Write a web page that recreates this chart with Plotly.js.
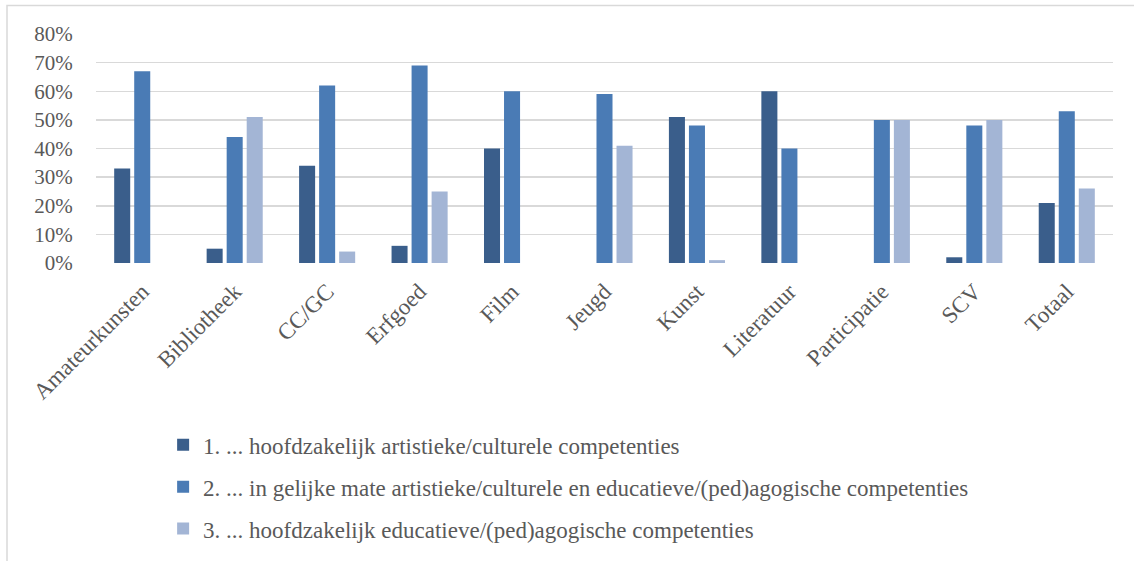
<!DOCTYPE html>
<html>
<head>
<meta charset="utf-8">
<script src="https://cdn.plot.ly/plotly-3.0.1.min.js"></script>
<style>
  html, body { margin: 0; padding: 0; background: #ffffff; }
  #chart { width: 1134px; height: 561px; }
</style>
</head>
<body>
<div id="chart"></div>
<script>
// Sectors shown along the x axis
const categories = ["Amateurkunsten", "Bibliotheek", "CC/GC", "Erfgoed", "Film", "Jeugd",
                    "Kunst", "Literatuur", "Participatie", "SCV", "Totaal"];

// Share of respondents per answer (fractions)
const mostlyArtistic = [0.33, 0.05, 0.34, 0.06, 0.40, 0.00, 0.51, 0.60, 0.00, 0.02, 0.21];
const equalMix       = [0.67, 0.44, 0.62, 0.69, 0.60, 0.59, 0.48, 0.40, 0.50, 0.48, 0.53];
const mostlyEducational = [0.00, 0.51, 0.04, 0.25, 0.00, 0.41, 0.01, 0.00, 0.50, 0.50, 0.26];

const seriesNames = [
  "1. ... hoofdzakelijk artistieke/culturele competenties",
  "2. ... in gelijke mate artistieke/culturele en educatieve/(ped)agogische competenties",
  "3. ... hoofdzakelijk educatieve/(ped)agogische competenties"
];
const seriesColors = ["#3a5e8b", "#4a7bb5", "#a3b5d5"];
const seriesValues = [mostlyArtistic, equalMix, mostlyEducational];

const serif = "Liberation Serif, Times New Roman, serif";
const grey = "#595959";

const traces = seriesValues.map((vals, i) => ({
  type: "bar",
  x: categories,
  y: vals,
  name: seriesNames[i],
  legendgroup: "g" + i,
  marker: { color: seriesColors[i] },
  hoverinfo: "x+y"
}));

const layout = {
  width: 1134,
  height: 561,
  font: { family: serif, color: grey, size: 20 },
  paper_bgcolor: "#ffffff",
  plot_bgcolor: "#ffffff",
  margin: { l: 96, r: 21, t: 34, b: 298, autoexpand: false },
  barmode: "group",
  bargap: 0.35,
  bargroupgap: 0.2,
  showlegend: true,
  legend: {
    x: 0.066, y: -0.70, xanchor: "left", yanchor: "top",
    orientation: "v",
    font: { family: serif, color: grey, size: 23 },
    tracegroupgap: 9,
    itemwidth: 30,
    bgcolor: "rgba(0,0,0,0)"
  },
  xaxis: {
    type: "category",
    tickangle: -45,
    tickfont: { family: serif, color: grey, size: 23 },
    showgrid: false,
    showline: false,
    ticks: "outside",
    ticklen: 5,
    tickcolor: "rgba(0,0,0,0)",
    fixedrange: true
  },
  yaxis: {
    range: [0, 0.8],
    dtick: 0.1,
    tickformat: ".0%",
    tickfont: { family: serif, color: grey, size: 21 },
    showgrid: true,
    gridcolor: "#d9d9d9",
    gridwidth: 1.5,
    zeroline: false,
    showline: false,
    ticks: "outside",
    ticklen: 18,
    tickcolor: "rgba(0,0,0,0)",
    fixedrange: true
  },
  shapes: [{
    type: "rect",
    xref: "paper", yref: "paper",
    x0: (7 - 96) / 1017, x1: (1140 - 96) / 1017,
    y0: (263 - 570) / 229, y1: (263 - 5.5) / 229,
    line: { color: "#d9d9d9", width: 1.5 },
    fillcolor: "rgba(0,0,0,0)",
    layer: "below"
  }]
};

Plotly.newPlot("chart", traces, layout, { displayModeBar: false, staticPlot: true });
</script>
</body>
</html>
